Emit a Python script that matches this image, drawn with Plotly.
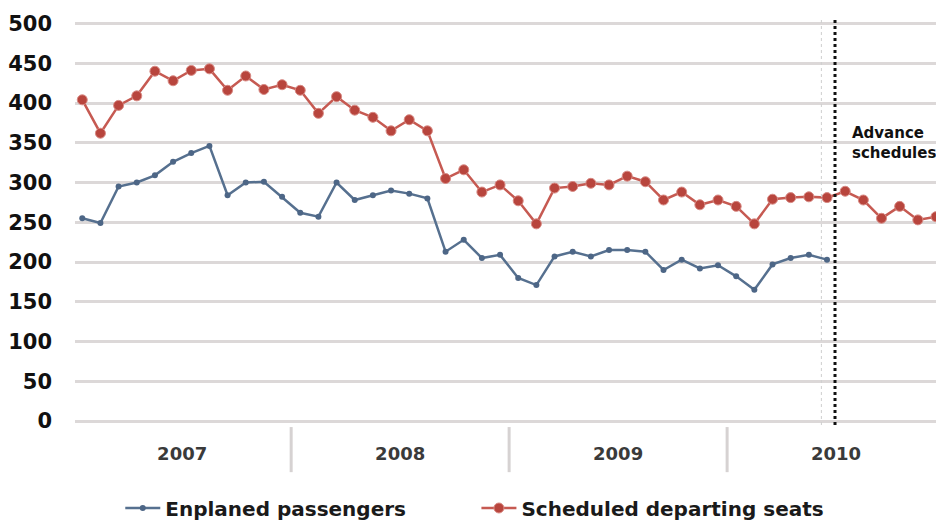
import plotly.graph_objects as go

# Monthly index: 0 = Jan 2007 ... 47 = Dec 2010
years = ["2007", "2008", "2009", "2010"]

enplaned = [255, 249, 295, 300, 309, 326, 337, 346, 284, 300, 301, 282,
            262, 257, 300, 278, 284, 290, 286, 280, 213, 228, 205, 209,
            180, 171, 207, 213, 207, 215, 215, 213, 190, 203, 192, 196,
            182, 165, 197, 205, 209, 203]

seats = [404, 362, 397, 409, 440, 428, 441, 443, 416, 434, 417, 423,
         416, 387, 408, 391, 382, 365, 379, 365, 305, 316, 288, 297,
         277, 248, 293, 295, 299, 297, 308, 301, 278, 288, 272, 278,
         270, 248, 279, 281, 282, 281, 289, 278, 255, 270, 253, 257]

y_ticks = [0, 50, 100, 150, 200, 250, 300, 350, 400, 450, 500]

month_idx_blue = list(range(len(enplaned)))
month_idx_red = list(range(len(seats)))
year_centers = [5.5, 17.5, 29.5, 41.5]
year_bounds = [-0.5, 11.5, 23.5, 35.5]
advance_x = 41.44

BOLD = "DejaVu Sans, Verdana, sans-serif"

fig = go.Figure()

fig.add_trace(go.Scatter(
    x=month_idx_blue, y=enplaned, mode="lines+markers",
    name="Enplaned passengers", legend="legend",
    line=dict(color="#56708f", width=2.5),
    marker=dict(color="#4d6686", size=6, symbol="circle"),
    cliponaxis=False,
))
fig.add_trace(go.Scatter(
    x=month_idx_red, y=seats, mode="lines+markers",
    name="Scheduled departing seats", legend="legend2",
    line=dict(color="#c65a52", width=2.5),
    marker=dict(color="#b8453d", size=10, symbol="circle",
                line=dict(color="#d88a84", width=1)),
    cliponaxis=False,
))

shapes = []
for b in year_bounds:
    shapes.append(dict(type="line", xref="x", yref="paper", x0=b, x1=b,
                       y0=-0.005, y1=-0.115,
                       line=dict(color="#d6d2d2", width=3)))
# advance schedules divider
shapes.append(dict(type="line", xref="x", yref="paper",
                   x0=advance_x - 0.75, x1=advance_x - 0.75, y0=0, y1=0.99,
                   line=dict(color="#cfcfcf", width=1, dash="dot")))
shapes.append(dict(type="line", xref="x", yref="paper",
                   x0=advance_x, x1=advance_x, y0=0, y1=0.99,
                   line=dict(color="#111111", width=3, dash="dot")))

leg_font = dict(size=20, color="#1a1a1a", family=BOLD, weight="bold")

fig.update_layout(
    width=936, height=520,
    margin=dict(l=75, r=0, t=15, b=95, autoexpand=False),
    paper_bgcolor="white", plot_bgcolor="white",
    font=dict(family=BOLD, color="#222"),
    shapes=shapes,
    showlegend=True,
    legend=dict(orientation="h", xref="container", yref="container",
                x=0.1285, y=0.0231, xanchor="left", yanchor="middle",
                font=leg_font, itemwidth=35, bgcolor="rgba(0,0,0,0)"),
    legend2=dict(orientation="h", xref="container", yref="container",
                 x=0.509, y=0.0231, xanchor="left", yanchor="middle",
                 font=leg_font, itemwidth=35, bgcolor="rgba(0,0,0,0)"),
    annotations=[dict(x=advance_x + 0.85, y=350, xref="x", yref="y",
                      text="<b>Advance<br>schedules</b>", showarrow=False,
                      xanchor="left", yanchor="middle", align="left",
                      font=dict(size=15, color="#111", family=BOLD))],
)

fig.update_xaxes(range=[-0.4, 47.0], showgrid=False, zeroline=False,
                 tickvals=year_centers, ticktext=years, ticks="",
                 ticklabelstandoff=16, automargin=False,
                 tickfont=dict(size=18, color="#3a3a3a", weight="bold",
                               family=BOLD),
                 showline=False)
fig.update_yaxes(range=[-5, 510.7], tickvals=y_ticks,
                 showgrid=True, gridcolor="#dcd8d8", gridwidth=3,
                 zeroline=False, ticks="", ticklabelstandoff=22,
                 automargin=False,
                 tickfont=dict(size=21, color="#111", weight="bold",
                               family=BOLD))

fig.write_html(
    "out.html",
    config={"displayModeBar": False},
    post_script="document.body.style.margin='0';"
                "document.body.style.overflow='hidden';",
)
